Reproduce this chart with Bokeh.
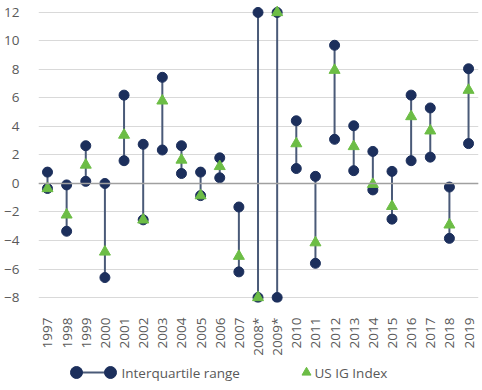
from bokeh.plotting import figure
from bokeh.models import Range1d, FixedTicker, Span
from bokeh.layouts import column
from bokeh.embed import file_html
from bokeh.resources import INLINE
from bokeh.core.properties import value

years = ["1997", "1998", "1999", "2000", "2001", "2002", "2003", "2004", "2005", "2006",
         "2007", "2008*", "2009*", "2010", "2011", "2012", "2013", "2014", "2015", "2016",
         "2017", "2018", "2019"]
iqr_top = [0.8, -0.1, 2.65, 0.0, 6.2, 2.75, 7.45, 2.65, 0.8, 1.8,
           -1.65, 12.0, 12.0, 4.4, 0.5, 9.7, 4.05, 2.25, 0.85, 6.2,
           5.3, -0.25, 8.05]
iqr_bottom = [-0.35, -3.35, 0.15, -6.6, 1.6, -2.55, 2.35, 0.7, -0.85, 0.4,
              -6.2, -8.0, -8.0, 1.05, -5.6, 3.1, 0.9, -0.45, -2.5, 1.6,
              1.85, -3.85, 2.8]
us_ig_index = [-0.35, -2.2, 1.3, -4.8, 3.4, -2.55, 5.8, 1.65, -0.85, 1.2,
               -5.1, -8.0, 12.0, 2.8, -4.15, 7.95, 2.6, -0.05, -1.6, 4.7,
               3.7, -2.9, 6.55]
y_ticks = [-8, -6, -4, -2, 0, 2, 4, 6, 8, 10, 12]

FONT = "Open Sans"
NAVY = "#1c2f5c"
LINE = "#4a5a78"
GREEN = "#6cbd45"
TXT = "#595959"

idx = list(range(len(years)))

p = figure(width=480, height=358, output_backend="svg", toolbar_location=None,
           x_range=Range1d(-0.47, 22.52), y_range=Range1d(-8.35, 12.84),
           min_border_left=38, min_border_right=2, min_border_top=0, min_border_bottom=56)
p.outline_line_color = None
p.background_fill_color = None
p.border_fill_color = None

p.xgrid.grid_line_color = None
p.ygrid.grid_line_color = "#d9d9d9"
p.ygrid.grid_line_width = 1

p.xaxis.ticker = FixedTicker(ticks=idx)
p.xaxis.major_label_overrides = {i: y for i, y in enumerate(years)}
p.xaxis.major_label_orientation = 3.14159265 / 2
p.yaxis.ticker = FixedTicker(ticks=y_ticks)
for ax in (p.xaxis[0], p.yaxis[0]):
    ax.axis_line_color = None
    ax.major_tick_line_color = None
    ax.minor_tick_line_color = None
    ax.major_tick_out = 0
    ax.major_tick_in = 0
    ax.major_label_text_font = FONT
    ax.major_label_text_font_size = "13.5px"
    ax.major_label_text_color = TXT
p.yaxis.major_label_standoff = 19
p.xaxis.major_label_standoff = 15

p.add_layout(Span(location=0, dimension="width", line_color="#a0a0a0", line_width=1.5))

p.segment(x0=idx, y0=iqr_bottom, x1=idx, y1=iqr_top, line_color=LINE, line_width=2)
p.scatter(x=idx, y=iqr_top, marker="circle", size=10, fill_color=NAVY, line_color=NAVY)
p.scatter(x=idx, y=iqr_bottom, marker="circle", size=10, fill_color=NAVY, line_color=NAVY)
p.scatter(x=idx, y=us_ig_index, marker="triangle", size=11, fill_color=GREEN, line_color=GREEN)

# legend strip (its frame is aligned with the main plot's frame: 38..478 px)
leg = figure(width=480, height=32, output_backend="svg", toolbar_location=None,
             x_range=Range1d(38, 478), y_range=Range1d(0, 32),
             min_border_left=38, min_border_right=2, min_border_top=0, min_border_bottom=0,
             x_axis_type=None, y_axis_type=None)
leg.outline_line_color = None
leg.grid.visible = False
leg.background_fill_color = None
leg.border_fill_color = None
leg.segment(x0=[76], y0=[18], x1=[110], y1=[18], line_color=LINE, line_width=2)
leg.scatter(x=[76, 110], y=[18, 18], marker="circle", size=12, fill_color=NAVY, line_color=NAVY)
leg.text(x=[121], y=[18], text=["Interquartile range"], text_font=value(FONT),
         text_font_size="13.5px", text_color=TXT, text_baseline="middle")
leg.scatter(x=[306], y=[18], marker="triangle", size=9, fill_color=GREEN, line_color=GREEN)
leg.text(x=[314], y=[18], text=["US IG Index"], text_font=value(FONT),
         text_font_size="13.5px", text_color=TXT, text_baseline="middle")

layout = column(p, leg, spacing=0)
open("out.html", "w").write(file_html(layout, INLINE))
